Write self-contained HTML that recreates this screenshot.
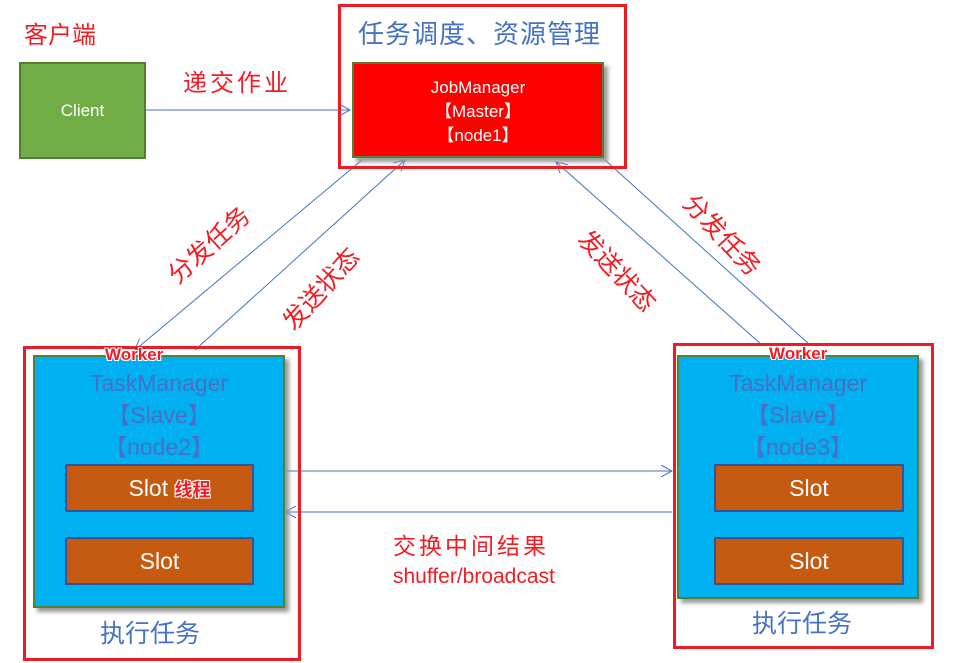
<!DOCTYPE html>
<html><head><meta charset="utf-8"><style>
body{margin:0;width:955px;height:663px;background:#fff;position:relative;overflow:hidden;font-family:"Liberation Sans","Noto Sans CJK SC",sans-serif}
.a{position:absolute}
.red{color:#f21c24}
.frame{position:absolute;border:3px solid #ed1c24;box-sizing:border-box}
.tm{position:absolute;background:#00b0f0;border:2px solid #538135;box-sizing:border-box;box-shadow:4px 4px 4px #999;text-align:center;color:#4a6fc4;font-size:23px;line-height:32px}
.slot{position:absolute;background:#c55a11;border:2px solid #2f5597;box-sizing:border-box;color:#fff;font-size:23px;text-align:center;line-height:44px}
.wk{position:absolute;color:#f21c24;font-weight:bold;font-size:17px;text-shadow:-1px -1px 0 #fff,1px -1px 0 #fff,-1px 1px 0 #fff,1px 1px 0 #fff}
.lbl{position:absolute;color:#f21c24;font-size:25px;white-space:nowrap;transform-origin:center}
</style></head><body>
<svg class="a" style="left:0;top:0" width="955" height="663">
<defs><marker id="m" markerWidth="12" markerHeight="12" refX="11" refY="6" orient="auto" markerUnits="userSpaceOnUse"><path d="M0,0 L11,6 L0,12" fill="none" stroke="#4472c4" stroke-width="1"/></marker></defs>
<g stroke="#4472c4" stroke-width="1" fill="none">
<line x1="146" y1="110" x2="350" y2="110" marker-end="url(#m)"/>
<line x1="362" y1="160" x2="135" y2="350" marker-end="url(#m)"/>
<line x1="195" y1="350" x2="405" y2="160" marker-end="url(#m)"/>
<line x1="762" y1="345" x2="556" y2="162" marker-end="url(#m)"/>
<line x1="605" y1="160" x2="810" y2="345"/>
<line x1="285" y1="471" x2="672" y2="471" marker-end="url(#m)"/>
<line x1="672" y1="512" x2="285" y2="512" marker-end="url(#m)"/>
</g></svg>
<div class="a red" style="left:24px;top:15px;font-size:24px">客户端</div>
<div class="a" style="left:19px;top:62px;width:127px;height:97px;background:#70ad47;border:2px solid #507e32;box-sizing:border-box;color:#fff;font-size:17px;text-align:center;line-height:93px">Client</div>
<div class="a red" style="left:183px;top:63px;font-size:24px;letter-spacing:3px">递交作业</div>
<div class="frame" style="left:338px;top:4px;width:289px;height:165px"></div>
<div class="a" style="left:358px;top:14px;font-size:26px;color:#4472c4;letter-spacing:1px">任务调度、资源管理</div>
<div class="a" style="left:352px;top:62px;width:252px;height:96px;background:#f00;border:2px solid #538135;box-sizing:border-box;box-shadow:4px 4px 4px #999;color:#fff;font-size:17px;text-align:center;line-height:24px;padding-top:12px">JobManager<br>【Master】<br>【node1】</div>
<div class="lbl" style="left:158px;top:226px;transform:rotate(-42deg)">分发任务</div>
<div class="lbl" style="left:270px;top:270px;transform:rotate(-48deg)">发送状态</div>
<div class="lbl" style="left:568px;top:252px;transform:rotate(47deg)">发送状态</div>
<div class="lbl" style="left:673px;top:216px;transform:rotate(47deg)">分发任务</div>
<div class="frame" style="left:23px;top:346px;width:278px;height:315px"></div>
<div class="tm" style="left:33px;top:355px;width:252px;height:253px;padding-top:10px">TaskManager<br>【Slave】<br>【node2】</div>
<div class="slot" style="left:65px;top:464px;width:189px;height:48px;padding-left:20px">Slot <span style="color:#f21c24;font-weight:bold;font-size:18px;text-shadow:-1px -1px 0 #fff,1px -1px 0 #fff,-1px 1px 0 #fff,1px 1px 0 #fff">线程</span></div>
<div class="slot" style="left:65px;top:537px;width:189px;height:48px">Slot</div>
<div class="wk" style="left:105px;top:345px">Worker</div>
<div class="a" style="left:100px;top:614px;font-size:25px;color:#4472c4">执行任务</div>
<div class="frame" style="left:673px;top:343px;width:261px;height:306px"></div>
<div class="tm" style="left:677px;top:355px;width:242px;height:244px;padding-top:10px">TaskManager<br>【Slave】<br>【node3】</div>
<div class="slot" style="left:714px;top:464px;width:190px;height:48px">Slot</div>
<div class="slot" style="left:714px;top:537px;width:190px;height:48px">Slot</div>
<div class="wk" style="left:769px;top:344px">Worker</div>
<div class="a" style="left:752px;top:604px;font-size:25px;color:#4472c4">执行任务</div>
<div class="a red" style="left:393px;top:527px;font-size:23px;letter-spacing:3px">交换中间结果</div>
<div class="a red" style="left:393px;top:565px;font-size:21px">shuffer/broadcast</div>
</body></html>
